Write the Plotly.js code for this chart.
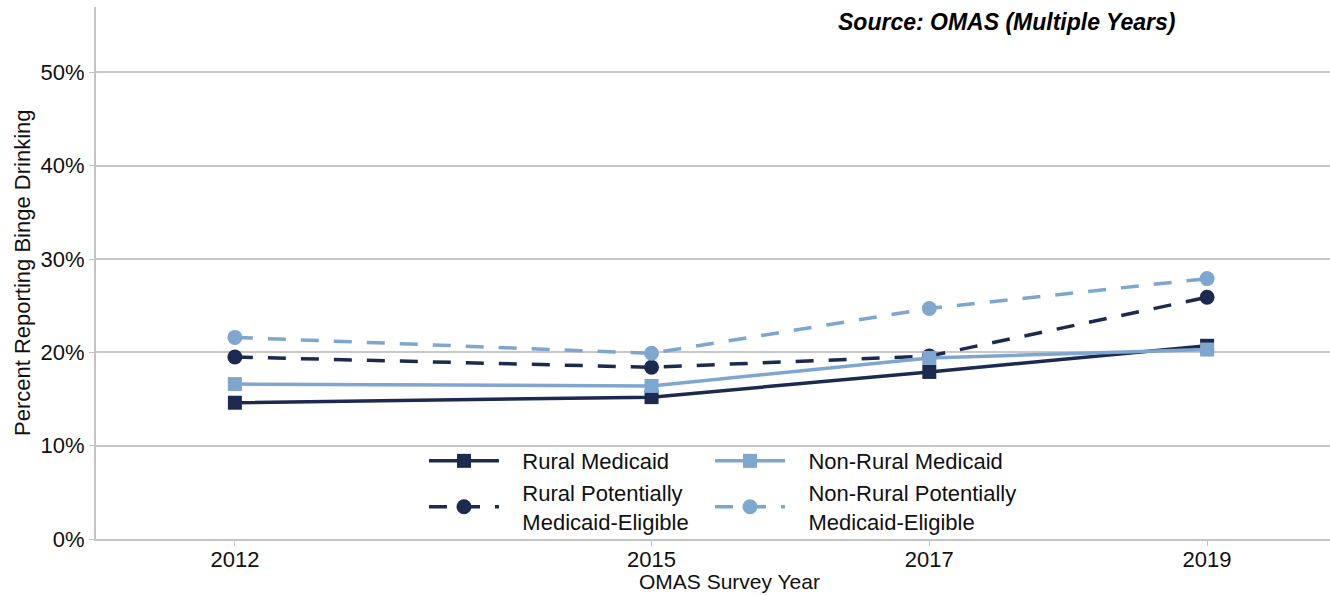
<!DOCTYPE html>
<html>
<head>
<meta charset="utf-8">
<script src="https://cdn.plot.ly/plotly-3.0.1.min.js"></script>
<style>html,body{margin:0;padding:0;background:#fff;}#chart{width:1330px;height:596px;}</style>
</head>
<body>
<div id="chart"></div>
<script>
const years = [2012, 2015, 2017, 2019];
const ruralMedicaid = [14.6, 15.2, 17.9, 20.7];
const nonRuralMedicaid = [16.6, 16.4, 19.4, 20.3];
const ruralPME = [19.5, 18.4, 19.6, 25.9];
const nonRuralPME = [21.6, 19.9, 24.7, 27.9];
const yTicks = [0, 10, 20, 30, 40, 50];
const seriesNames = ['Rural Medicaid', 'Rural Potentially<br>Medicaid-Eligible',
                     'Non-Rural Medicaid', 'Non-Rural Potentially<br>Medicaid-Eligible'];

const dark = '#1b2a4e';
const light = '#7fa6cf';
const dashPat = '18px,15px';
const pad = s => s.split('<br>').map(l => '\u00a0\u00a0\u00a0' + l).join('<br>');

const traces = [
  {x: years, y: ruralMedicaid, name: pad(seriesNames[0]), mode: 'lines+markers', legend: 'legend',
   line: {color: dark, width: 3.5}, marker: {symbol: 'square', size: 14, color: dark}},
  {x: years, y: ruralPME, name: pad(seriesNames[1]), mode: 'lines+markers', legend: 'legend',
   line: {color: dark, width: 3.5, dash: dashPat}, marker: {symbol: 'circle', size: 15, color: dark}},
  {x: years, y: nonRuralMedicaid, name: pad(seriesNames[2]), mode: 'lines+markers', legend: 'legend2',
   line: {color: light, width: 3.5}, marker: {symbol: 'square', size: 14, color: light}},
  {x: years, y: nonRuralPME, name: pad(seriesNames[3]), mode: 'lines+markers', legend: 'legend2',
   line: {color: light, width: 3.5, dash: dashPat}, marker: {symbol: 'circle', size: 15, color: light}}
];

const legendCommon = {
  orientation: 'v', xref: 'paper', yref: 'paper', xanchor: 'left', yanchor: 'top',
  y: 0.186, bgcolor: 'rgba(0,0,0,0)', borderwidth: 0, itemwidth: 70,
  tracegroupgap: 0, traceorder: 'normal',
  font: {family: 'Liberation Sans, Arial, sans-serif', size: 22, color: '#111'}
};

const layout = {
  width: 1330, height: 596,
  margin: {l: 96, r: 0, t: 7, b: 57},
  paper_bgcolor: '#fff', plot_bgcolor: '#fff',
  font: {family: 'Liberation Sans, Arial, sans-serif', size: 22, color: '#111'},
  showlegend: true,
  legend: Object.assign({}, legendCommon, {x: 0.2658}),
  legend2: Object.assign({}, legendCommon, {x: 0.4976}),
  xaxis: {
    range: [2011, 2019.885], tickvals: years, ticktext: years.map(String),
    showgrid: false, zeroline: false, showline: true, linecolor: '#c4c4c4', linewidth: 2,
    ticks: 'outside', ticklen: 5, tickcolor: '#c4c4c4', tickwidth: 1, ticklabelstandoff: -5,
    tickfont: {size: 22, color: '#111'}
  },
  yaxis: {
    range: [0, 57], tickvals: yTicks, ticktext: yTicks.map(v => v + '%'),
    showgrid: true, gridcolor: '#c8c8c8', gridwidth: 2, zeroline: false,
    showline: true, linecolor: '#c4c4c4', linewidth: 2,
    ticks: 'outside', ticklen: 5, tickcolor: '#c4c4c4', tickwidth: 1,
    tickfont: {size: 22, color: '#111'}
  },
  annotations: [
    {text: '<b><i>Source: OMAS (Multiple Years)</i></b>', xref: 'paper', yref: 'paper',
     x: 0.876, y: 0.972, xanchor: 'right', yanchor: 'middle', showarrow: false,
     font: {size: 23, color: '#000'}},
    {text: 'OMAS Survey Year', xref: 'paper', yref: 'paper', x: 0.513, y: 0,
     xanchor: 'center', yanchor: 'middle', yshift: -42, showarrow: false,
     font: {size: 21, color: '#111'}},
    {text: 'Percent Reporting Binge Drinking', xref: 'paper', yref: 'paper', x: 0, y: 0.5,
     xanchor: 'center', yanchor: 'middle', xshift: -74, textangle: -90, showarrow: false,
     font: {size: 22, color: '#111'}}
  ]
};

Plotly.newPlot('chart', traces, layout, {displayModeBar: false, staticPlot: true});
</script>
</body>
</html>
